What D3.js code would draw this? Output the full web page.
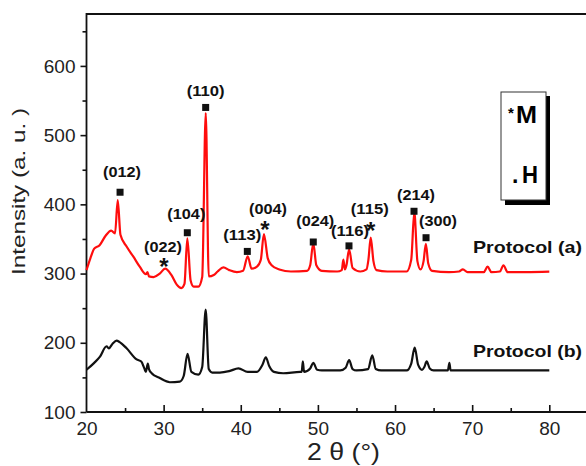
<!DOCTYPE html>
<html>
<head>
<meta charset="utf-8">
<script src="https://cdn.jsdelivr.net/npm/d3@7/dist/d3.min.js"></script>
<style>
  body { margin: 0; background: #fff; }
  svg { display: block; font-family: Arial, "Liberation Sans", Helvetica, sans-serif; }
</style>
</head>
<body>
<div id="chart"></div>
<script>
// XRD patterns (2theta in degrees, intensity in a.u.)
const thetaA = [20, 20.5, 21, 21.7, 22.5, 23.2, 23.7, 24.05, 24.4, 25.2, 26.1, 26.9, 27.7, 27.9, 28.1, 28.7, 29.5, 30.2, 31.0, 31.7, 32.3, 32.7, 33.07, 33.5, 33.9, 34.5, 35.0, 35.46, 35.85, 36.5, 37.0, 37.75, 38.5, 39.5, 40.3, 40.9, 41.4, 42.1, 42.6, 43.0, 43.5, 44.0, 45.0, 46.5, 48.6, 49.0, 49.4, 49.8, 50.5, 52.5, 53.1, 53.3, 53.5, 53.7, 54.05, 54.5, 55.5, 56.3, 56.55, 56.85, 57.2, 57.6, 59, 61.5, 62.1, 62.5, 62.9, 63.3, 63.7, 64.0, 64.3, 64.8, 67, 68.3, 68.8, 69.4, 71.5, 72.0, 72.5, 73.6, 74.05, 74.6, 77, 80];
const intensA = [305, 322, 336, 341, 355, 362, 358, 406, 356, 339, 324, 310, 299, 302, 296, 295, 300, 307, 298, 284, 279, 285, 351, 290, 281, 281, 295, 532, 296, 298, 303, 309, 305, 302, 304, 325, 307, 310, 320, 357, 322, 312, 306, 303, 304, 312, 344, 312, 304, 303, 305, 320, 306, 312, 335, 308, 303, 306, 320, 352, 318, 305, 303, 303, 320, 389, 318, 306, 318, 343, 315, 304, 302, 303, 306, 302, 302, 310, 302, 303, 312, 302, 302, 302.7];

const thetaB = [20, 21, 21.75, 22.6, 22.9, 23.4, 23.9, 24.3, 25.2, 26.5, 27.1, 27.5, 27.7, 27.95, 28.1, 28.45, 29.5, 30.8, 32.1, 32.6, 33.1, 33.6, 34.5, 35.0, 35.45, 35.85, 36.3, 37.3, 38.5, 39.7, 40.9, 42.1, 42.8, 43.25, 43.7, 44.3, 45.5, 47.7, 47.9, 48.05, 48.2, 49.0, 49.4, 49.9, 50.5, 52.9, 53.6, 54.05, 54.5, 55, 56.5, 57.05, 57.5, 58.2, 61.5, 62.1, 62.55, 63.0, 63.5, 63.8, 64.1, 64.5, 65, 66.85, 67.05, 67.2, 70, 80];
const intensB = [161, 171, 180, 195, 192, 199, 203, 201, 192, 176, 173, 163, 158, 170, 162, 156, 149, 143, 144, 152, 184, 158, 154, 165, 248, 162, 157, 157, 159, 163, 158, 158, 168, 179, 166, 158, 156, 158, 158, 173, 158, 163, 171, 161, 160, 160, 164, 175, 162, 160, 162, 182, 162, 160, 160, 170, 193, 168, 161, 165, 173, 163, 160, 160, 171, 160, 160, 160];

// peak assignments: label, marker position (2theta, intensity), phase (H = square, M = asterisk)
const peakLabels = ["(012)", "(022)", "(104)", "(110)", "(113)", "(004)", "(024)", "(116)", "(115)", "(214)", "(300)"];
const peakTheta  = [24.35, 30.05, 33.07, 35.45, 40.85, 43.14, 49.4, 54.03, 56.85, 62.46, 64.02];
const peakMarkY  = [417.5, 317, 359, 540, 332, 370, 345.6, 340, 368.7, 390, 351.8];
const peakPhase  = ["H", "M", "H", "H", "H", "M", "H", "H", "M", "H", "H"];

const xTicks = [20, 30, 40, 50, 60, 70, 80];
const yTicks = [100, 200, 300, 400, 500, 600];
const seriesNames = ["Protocol (a)", "Protocol (b)"];

const width = 586, height = 466;
const svg = d3.select("#chart").append("svg")
  .attr("width", width).attr("height", height);

const x = d3.scaleLinear().domain([20, 80]).range([86.5, 549.3]);
const y = d3.scaleLinear().domain([100, 675]).range([412, 14]);

// label offsets relative to marker, pixels
const labelDx = [2, -1, -1, 0, -5, 3, 2, 1, -1, 2, 12];
const labelDy = [-15, -10, -14, -11, -11, -11, -16, -10, -12, -11, -12];

// frame (right side runs off the picture)
svg.append("path")
  .attr("d", `M86.5,412 V14 H600 M86.5,412 H600`)
  .attr("fill", "none").attr("stroke", "#111").attr("stroke-width", 1.8);

// axes
const xAxis = d3.axisBottom(x).tickValues(xTicks).tickSize(-7).tickPadding(10).tickFormat(d3.format("d"));
const gx = svg.append("g").attr("transform", "translate(0,412)").call(xAxis);
gx.selectAll(".tick").filter(d => d === 20).select("line").remove();
svg.append("g").attr("transform", "translate(0,412)")
  .call(d3.axisBottom(x).tickValues(d3.range(25, 80, 10)).tickSize(-4).tickFormat(""));

const yAxis = d3.axisLeft(y).tickValues(yTicks).tickSize(6).tickPadding(5).tickFormat(d3.format("d"));
const gy = svg.append("g").attr("transform", "translate(86.5,0)").call(yAxis);
svg.append("g").attr("transform", "translate(86.5,0)")
  .call(d3.axisLeft(y).tickValues(d3.range(150, 700, 100)).tickSize(4).tickFormat(""));

svg.selectAll(".domain").remove();
svg.selectAll(".tick line").attr("stroke", "#111").attr("stroke-width", 1.6);
svg.selectAll(".tick text").attr("fill", "#222").style("font-size", "19px");
gx.selectAll(".tick text").attr("dy", "0.68em");

// curves
const line = d3.line().x(d => x(d[0])).y(d => y(d[1])).curve(d3.curveMonotoneX);
svg.append("path")
  .datum(thetaA.map((t, i) => [t, intensA[i]]))
  .attr("d", line).attr("fill", "none").attr("stroke", "#ff0d0d").attr("stroke-width", 2.2);
svg.append("path")
  .datum(thetaB.map((t, i) => [t, intensB[i]]))
  .attr("d", line).attr("fill", "none").attr("stroke", "#111").attr("stroke-width", 2.2);

// peak markers + labels
peakLabels.forEach((lab, i) => {
  const px = x(peakTheta[i]), py = y(peakMarkY[i]);
  if (peakPhase[i] === "H") {
    svg.append("rect").attr("x", px - 3.5).attr("y", py - 3.5)
      .attr("width", 7).attr("height", 7).attr("fill", "#111");
  } else {
    svg.append("text").attr("x", px).attr("y", py + 13)
      .attr("text-anchor", "middle").style("font-size", "24px").style("font-weight", "bold")
      .attr("fill", "#111").text("*");
  }
  svg.append("text")
    .attr("x", px + labelDx[i] - 19).attr("y", py + labelDy[i])
    .attr("textLength", 38).attr("lengthAdjust", "spacingAndGlyphs")
    .style("font-size", "15.5px").style("font-weight", "bold").attr("fill", "#111")
    .text(lab);
});

// series labels
const nameY = [253, 357];
seriesNames.forEach((n, i) => {
  svg.append("text").attr("x", 473).attr("y", nameY[i])
    .attr("textLength", 109).attr("lengthAdjust", "spacingAndGlyphs")
    .style("font-size", "17px").style("font-weight", "bold").attr("fill", "#111")
    .text(n);
});

// phase legend box with shadow
svg.append("rect").attr("x", 505).attr("y", 96).attr("width", 45).attr("height", 109).attr("fill", "#000");
svg.append("rect").attr("x", 501).attr("y", 92).attr("width", 45).attr("height", 108)
  .attr("fill", "#fff").attr("stroke", "#333").attr("stroke-width", 1);
svg.append("text").attr("x", 508).attr("y", 118).style("font-size", "15px").style("font-weight", "bold").text("*");
svg.append("text").attr("x", 516).attr("y", 123).attr("textLength", 21).attr("lengthAdjust", "spacingAndGlyphs")
  .style("font-size", "23px").style("font-weight", "bold").text("M");
svg.append("text").attr("x", 512).attr("y", 183).style("font-size", "23px").style("font-weight", "bold").text(".");
svg.append("text").attr("x", 522).attr("y", 183).attr("textLength", 16).attr("lengthAdjust", "spacingAndGlyphs")
  .style("font-size", "23px").style("font-weight", "bold").text("H");

// axis titles
svg.append("text")
  .attr("transform", "translate(25,275) rotate(-90)")
  .attr("textLength", 167).attr("lengthAdjust", "spacingAndGlyphs")
  .style("font-size", "19px").attr("fill", "#222")
  .text("Intensity (a. u. )");
svg.append("text").attr("x", 307).attr("y", 460)
  .attr("textLength", 73).attr("lengthAdjust", "spacingAndGlyphs")
  .style("font-size", "24px").attr("fill", "#222")
  .text("2 θ (°)");
</script>
</body>
</html>
